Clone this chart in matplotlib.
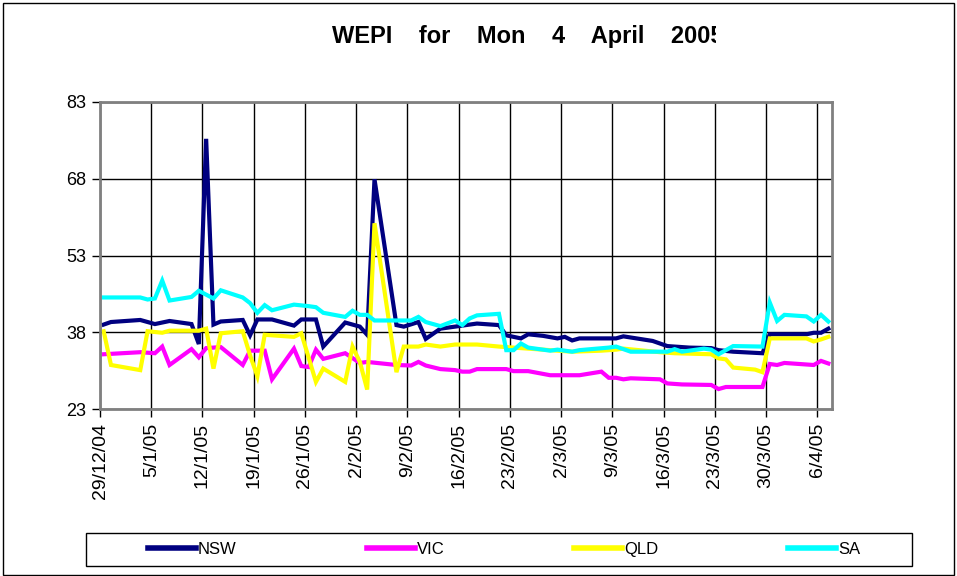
"""
WEPI daily index by region, 29/12/04 - 7/4/05
"""
import matplotlib.pyplot as plt
from matplotlib.patches import Rectangle
from matplotlib.lines import Line2D
from matplotlib.transforms import Bbox

plt.rcParams['font.family'] = ['Liberation Sans', 'DejaVu Sans']

# x positions are days after 29/12/04
tick_days = [0, 7, 14, 21, 28, 35, 42, 49, 56, 63, 70, 77, 84, 91, 98]
tick_labels = ['29/12/04', '5/1/05', '12/1/05', '19/1/05', '26/1/05',
               '2/2/05', '9/2/05', '16/2/05', '23/2/05', '2/3/05',
               '9/3/05', '16/3/05', '23/3/05', '30/3/05', '6/4/05']
y_ticks = [23, 38, 53, 68, 83]

nsw_day = [0.5, 1.5, 5.5, 7.5, 9.5, 12.5, 13.5, 14.5, 15.5, 16.5, 19.5, 20.5,
           21.5, 23.5, 26.5, 27.5, 29.5, 30.5, 33.5, 35.5, 36.5, 37.5, 40.5,
           41.5, 43.5, 44.5, 46.5, 48.5, 51.5, 54.5, 55.5, 57.5, 58.5, 60.5,
           62.5, 63.5, 64.5, 65.5, 70.5, 71.5, 75.5, 77.5, 80.5, 83.5, 84.5,
           86.5, 90.5, 91.5, 96.5, 97.5, 98.5, 99.5]
nsw_val = [39.5, 40.0, 40.4, 39.6, 40.2, 39.6, 35.7, 75.8, 39.5, 40.1, 40.4,
           37.4, 40.5, 40.5, 39.3, 40.5, 40.5, 35.2, 39.9, 39.1, 37.5, 67.9,
           39.4, 39.1, 40.0, 36.7, 38.7, 39.1, 39.7, 39.4, 37.4, 36.8, 37.6,
           37.3, 36.8, 37.1, 36.4, 36.8, 36.8, 37.2, 36.3, 35.3, 35.0, 34.9,
           34.5, 34.2, 33.9, 37.6, 37.6, 37.9, 37.9, 38.7]

vic_day = [0.5, 5.5, 7.5, 8.5, 9.5, 12.5, 13.5, 14.5, 16.5, 19.5, 20.5, 22.5,
           23.5, 26.5, 27.5, 28.5, 29.5, 30.5, 33.5, 35.5, 36.5, 38.5, 40.5,
           42.5, 43.5, 44.5, 46.5, 48.5, 49.5, 50.5, 51.5, 55.5, 56.5, 58.5,
           61.5, 65.5, 68.5, 69.5, 70.5, 71.5, 72.5, 76.5, 77.5, 79.5, 83.5,
           84.5, 85.5, 90.5, 91.5, 92.5, 93.5, 97.5, 98.5, 99.5]
vic_val = [33.7, 34.1, 33.9, 35.2, 31.6, 34.7, 33.1, 34.9, 35.1, 31.6, 34.4,
           34.4, 28.8, 34.8, 31.4, 31.2, 34.6, 32.8, 33.9, 32.0, 32.2, 31.9,
           31.6, 31.5, 32.2, 31.5, 30.8, 30.6, 30.3, 30.3, 30.8, 30.8, 30.4,
           30.4, 29.6, 29.6, 30.3, 29.1, 29.1, 28.8, 29.0, 28.8, 28.0, 27.8,
           27.7, 26.9, 27.3, 27.3, 31.8, 31.6, 32.0, 31.6, 32.4, 31.9]

qld_day = [0.5, 1.5, 5.5, 6.5, 8.5, 9.5, 13.5, 14.5, 15.5, 16.5, 19.5, 20.5,
           21.5, 22.5, 26.5, 27.5, 29.5, 30.5, 33.5, 34.5, 35.5, 36.5, 37.5,
           40.5, 41.5, 43.5, 44.5, 46.5, 48.5, 51.5, 54.5, 57.5, 61.5, 64.5,
           68.5, 70.5, 71.5, 76.5, 78.5, 83.5, 84.5, 85.5, 86.5, 89.5, 90.5,
           91.5, 96.5, 97.5, 98.5, 99.5]
qld_val = [38.2, 31.6, 30.6, 38.2, 37.9, 38.3, 38.3, 38.7, 30.9, 37.8, 38.2,
           33.5, 29.4, 37.5, 37.1, 37.8, 28.3, 30.9, 28.3, 35.2, 32.2, 26.8,
           59.3, 30.2, 35.2, 35.2, 35.6, 35.2, 35.6, 35.6, 35.2, 34.9, 34.5,
           34.2, 34.4, 34.6, 34.8, 34.1, 33.9, 33.7, 32.9, 32.7, 31.1, 30.7,
           30.2, 36.8, 36.8, 36.2, 36.6, 37.1]

sa_day = [0.5, 5.5, 6.5, 7.5, 8.5, 9.5, 12.5, 13.5, 15.5, 16.5, 19.5, 20.5,
          21.5, 22.5, 23.5, 26.5, 28.5, 29.5, 30.5, 33.5, 34.5, 35.5, 36.5,
          37.5, 42.5, 43.5, 44.5, 46.5, 48.5, 49.5, 50.5, 51.5, 54.5, 55.5,
          56.5, 57.5, 58.5, 61.5, 62.5, 64.5, 65.5, 69.5, 70.5, 72.5, 77.5,
          78.5, 79.5, 82.5, 83.5, 84.5, 86.5, 90.5, 91.5, 92.5, 93.5, 96.5,
          97.5, 98.5, 99.5]
sa_val = [44.8, 44.8, 44.4, 44.6, 48.1, 44.2, 44.9, 46.1, 44.6, 46.2, 44.8,
          43.7, 41.8, 43.3, 42.3, 43.4, 43.1, 42.9, 41.8, 41.0, 42.2, 41.4,
          41.4, 40.3, 40.3, 41.0, 40.0, 39.2, 40.3, 39.4, 40.7, 41.3, 41.6,
          34.5, 34.5, 35.8, 35.0, 34.4, 34.6, 34.2, 34.5, 35.0, 35.2, 34.2,
          34.2, 34.7, 34.2, 34.8, 34.6, 33.7, 35.3, 35.2, 43.8, 40.2, 41.4,
          41.1, 40.1, 41.4, 40.1]

series = [('NSW', nsw_day, nsw_val, '#000080'),
          ('VIC', vic_day, vic_val, '#FF00FF'),
          ('QLD', qld_day, qld_val, '#FFFF00'),
          ('SA', sa_day, sa_val, '#00FFFF')]

W, H = 957, 576
fig = plt.figure(figsize=(W / 100, H / 100), dpi=100)
ax = fig.add_axes([100 / W, 1 - 409 / H, 732 / W, 307 / H])

for name, d, v, c in series:
    ax.plot(d, v, color=c, lw=3, label=name, solid_joinstyle='miter')

ax.set_xlim(0, 100)
ax.set_ylim(23, 83)
ax.set_xticks(tick_days)
ax.set_xticklabels(tick_labels, rotation=90, fontsize=14)
ax.set_yticks(y_ticks)
ax.set_yticklabels([str(t) for t in y_ticks], fontsize=13)
ax.tick_params(direction='out', length=6, width=1, color='black', pad=4)
ax.grid(True, color='black', lw=1)
ax.set_axisbelow(True)
for s in ax.spines.values():
    s.set_color('#808080')
    s.set_linewidth(2)

# title (its last character is cut off in the original)
t = fig.text(332 / W, 1 - 37 / H, 'WEPI    for    Mon    4    April    2005',
             ha='left', va='center', fontsize=17, fontweight='bold')
t.set_clip_box(Bbox([[0, 0], [716, H]]))

# legend with its own outer box
handles = [Line2D([], [], color=c, lw=4) for _, _, _, c in series]
fig.legend(handles, [s[0] for s in series], loc='center', ncol=4,
           mode='expand', frameon=False, fontsize=12,
           bbox_to_anchor=(148 / W, 1 - 566 / H, 712 / W, 33 / H),
           handlelength=2.9, handletextpad=0.1, borderaxespad=0,
           borderpad=0)
fig.add_artist(Rectangle((86 / W, 1 - 566 / H), 826 / W, 33 / H,
                         transform=fig.transFigure, fill=False,
                         edgecolor='black', lw=1))
fig.add_artist(Rectangle((3 / W, 1 / H), 951 / W, 572 / H,
                         transform=fig.transFigure, fill=False,
                         edgecolor='black', lw=1))

fig.savefig('out.png', dpi=100)
